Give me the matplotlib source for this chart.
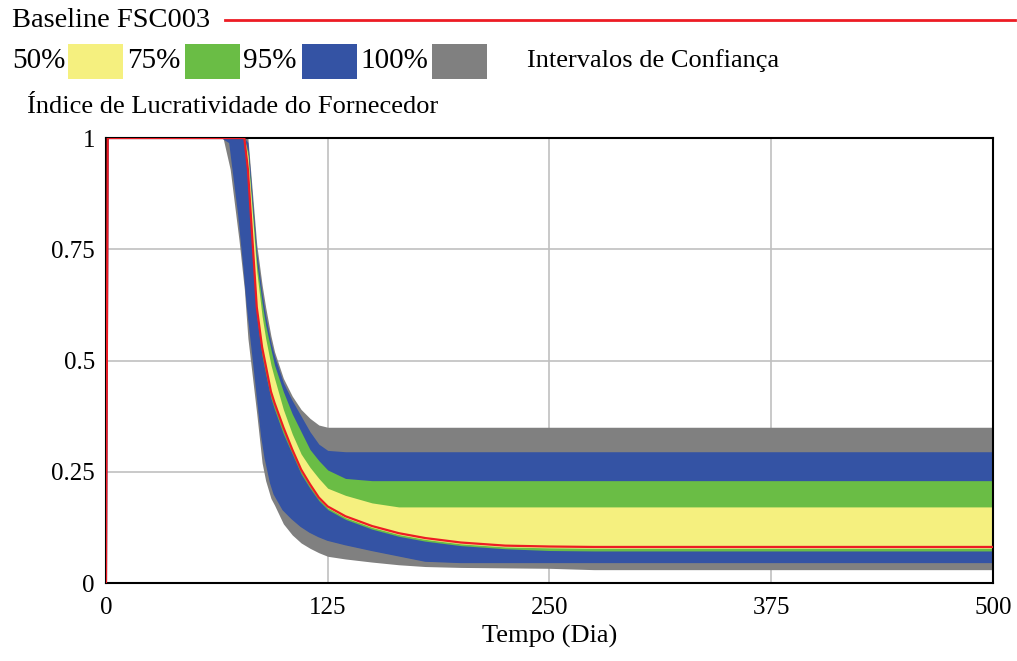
import numpy as np
import matplotlib.pyplot as plt
from matplotlib.patches import Rectangle
from matplotlib.lines import Line2D

plt.rcParams['font.family'] = ['Liberation Serif', 'DejaVu Serif']

# tempo (dia)
t = [0, 1, 66, 70, 75, 78, 80, 85, 88, 90, 93, 95, 100, 105, 110, 115, 120, 125,
     135, 150, 165, 180, 200, 225, 250, 275, 500]

# baseline FSC003
baseline = [0, 1, 1, 1, 1, 1, 0.93, 0.62, 0.53, 0.49, 0.43, 0.405, 0.35, 0.30, 0.255, 0.222, 0.192, 0.172,
            0.150, 0.128, 0.112, 0.101, 0.091, 0.084, 0.082, 0.081, 0.081]

# intervalos de confianca (limite inferior / superior)
lo50 = [0, 1, 1, 1, 1, 1, 0.925, 0.615, 0.525, 0.485, 0.425, 0.40, 0.345, 0.296, 0.251, 0.218, 0.189, 0.169,
        0.147, 0.125, 0.109, 0.098, 0.088, 0.081, 0.079, 0.078, 0.078]
hi50 = [0, 1, 1, 1, 1, 1, 0.96, 0.70, 0.60, 0.55, 0.49, 0.46, 0.39, 0.335, 0.29, 0.26, 0.235, 0.213,
        0.197, 0.18, 0.171, 0.171, 0.171, 0.171, 0.171, 0.171, 0.171]
lo75 = [0, 1, 1, 1, 1, 1, 0.90, 0.60, 0.51, 0.47, 0.415, 0.39, 0.335, 0.29, 0.245, 0.213, 0.185, 0.165,
        0.143, 0.121, 0.105, 0.094, 0.084, 0.077, 0.073, 0.072, 0.072]
hi75 = [0, 1, 1, 1, 1, 1, 0.97, 0.72, 0.63, 0.58, 0.525, 0.49, 0.43, 0.38, 0.34, 0.30, 0.275, 0.254,
        0.235, 0.23, 0.23, 0.23, 0.23, 0.23, 0.23, 0.23, 0.23]
lo95 = [0, 1, 1, 0.99, 0.83, 0.71, 0.62, 0.44, 0.33, 0.28, 0.225, 0.20, 0.165, 0.145, 0.128, 0.115, 0.105, 0.097,
        0.087, 0.074, 0.062, 0.050, 0.047, 0.047, 0.047, 0.047, 0.047]
hi95 = [0, 1, 1, 1, 1, 1, 0.99, 0.74, 0.65, 0.60, 0.54, 0.51, 0.45, 0.41, 0.375, 0.34, 0.312, 0.298,
        0.295, 0.295, 0.295, 0.295, 0.295, 0.295, 0.295, 0.295, 0.295]
lo100 = [0, 1, 1, 0.93, 0.77, 0.66, 0.55, 0.38, 0.27, 0.23, 0.19, 0.175, 0.133, 0.108, 0.09, 0.078, 0.068, 0.060,
         0.054, 0.047, 0.041, 0.037, 0.035, 0.034, 0.033, 0.030, 0.030]
hi100 = [0, 1, 1, 1, 1, 1, 1.0, 0.76, 0.67, 0.62, 0.555, 0.52, 0.46, 0.42, 0.39, 0.37, 0.355, 0.35,
         0.35, 0.35, 0.35, 0.35, 0.35, 0.35, 0.35, 0.35, 0.35]

xticks = [0, 125, 250, 375, 500]
yticks = [0, 0.25, 0.5, 0.75, 1]
ytick_labels = ["0", "0.25", "0.5", "0.75", "1"]

c_yellow = "#f5f07f"
c_green = "#6abd45"
c_blue = "#3453a4"
c_gray = "#808080"
c_red = "#ed1c24"

fig = plt.figure(figsize=(10.17, 6.61), dpi=100)
ax = fig.add_axes([0.1042, 0.118, 0.8722, 0.6732])

bands = [(lo100, hi100, c_gray), (lo95, hi95, c_blue), (lo75, hi75, c_green), (lo50, hi50, c_yellow)]
for lo, hi, col in bands:
    ax.fill_between(t, lo, hi, color=col, linewidth=0, zorder=2)
ax.plot(t, lo95, color=c_blue, linewidth=1.5, zorder=2)
ax.plot(t, baseline, color=c_red, linewidth=1.6, zorder=3)

ax.set_xlim(0, 500)
ax.set_ylim(0, 1)
ax.set_xticks(xticks)
ax.set_yticks(yticks)
ax.set_yticklabels(ytick_labels)
ax.tick_params(length=0, labelsize=18, pad=8)
ax.tick_params(axis="x", pad=10)
ax.grid(True, color="#c0c0c0", linewidth=1.2, zorder=1)
ax.set_axisbelow(True)
for s in ax.spines.values():
    s.set_color("black")
    s.set_linewidth(1.5)
ax.set_xlabel("Tempo (Dia)", fontsize=19, labelpad=4)

# legenda no topo
fig.text(0.0118, 0.9697, "Baseline FSC003", fontsize=20.5, va="center", ha="left")
fig.add_artist(Line2D([0.221, 0.998], [0.9697, 0.9697], color=c_red, linewidth=2))

leg_labels = ["50%", "75%", "95%", "100%"]
leg_colors = [c_yellow, c_green, c_blue, c_gray]
label_x = [0.0118, 0.1249, 0.239, 0.354]
box_x = [0.0669, 0.1819, 0.297, 0.4248]
for lab, col, lx, bx in zip(leg_labels, leg_colors, label_x, box_x):
    fig.text(lx, 0.9077, lab, fontsize=21, va="center", ha="left")
    fig.add_artist(Rectangle((bx, 0.8805), 0.0541, 0.053, transform=fig.transFigure,
                             facecolor=col, edgecolor="none"))
fig.text(0.518, 0.9092, "Intervalos de Confiança", fontsize=19, va="center", ha="left")
fig.text(0.0265, 0.838, "Índice de Lucratividade do Fornecedor", fontsize=19, va="center", ha="left")

fig.savefig("out.png", dpi=100)
